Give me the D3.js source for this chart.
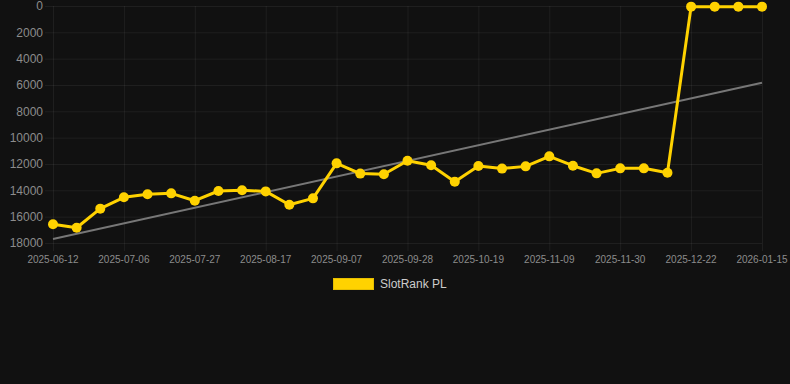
<!DOCTYPE html>
<html><head><meta charset="utf-8">
<script src="https://cdn.jsdelivr.net/npm/d3@7/dist/d3.min.js"></script>
<style>html,body{margin:0;padding:0;background:#111111;}svg{display:block;}</style>
</head><body>
<svg id="c" width="790" height="384"></svg>
<script>
const categories = ["2025-06-12","2025-06-20","2025-06-28","2025-07-06","2025-07-13","2025-07-20","2025-07-27","2025-08-03","2025-08-10","2025-08-17","2025-08-24","2025-08-31","2025-09-07","2025-09-14","2025-09-21","2025-09-28","2025-10-05","2025-10-12","2025-10-19","2025-10-26","2025-11-02","2025-11-09","2025-11-16","2025-11-23","2025-11-30","2025-12-07","2025-12-14","2025-12-22","2025-12-30","2026-01-07","2026-01-15"];
const rankValues = [16580,16840,15390,14530,14300,14230,14790,14050,14000,14080,15100,14610,11950,12730,12780,11750,12100,13340,12150,12350,12180,11420,12130,12710,12330,12330,12660,50,50,50,50];
const trendValues = [17700,5830];
const yTicks = [0,2000,4000,6000,8000,10000,12000,14000,16000,18000];
const seriesName = "SlotRank PL";

(function(){
const svg = d3.select("#c");
const pL = 53, pR = 762, pT = 6, pB = 243;
const x = d3.scalePoint().domain(categories).range([pL, pR]);
const y = d3.scaleLinear().domain([0,18000]).range([pT, pB]);
const font = "Liberation Sans, Arial, Helvetica, sans-serif";
const grid = "rgba(255,255,255,0.06)";

svg.append("g").selectAll("line").data(yTicks).join("line")
  .attr("x1", pL-8).attr("x2", pR).attr("y1", d=>y(d)+0.5).attr("y2", d=>y(d)+0.5)
  .attr("stroke", grid);
const shown = categories.filter((d,i)=>i%3===0);
svg.append("g").selectAll("line").data(shown).join("line")
  .attr("x1", d=>x(d)+0.5).attr("x2", d=>x(d)+0.5).attr("y1", pT).attr("y2", pB+8)
  .attr("stroke", grid);

svg.append("g").selectAll("text").data(yTicks).join("text")
  .attr("x", 43).attr("y", d=>y(d)).attr("dy","0.35em").attr("text-anchor","end")
  .attr("font-family", font).attr("font-size", 12).attr("fill", "#8c8c8c")
  .text(d=>d);
svg.append("g").selectAll("text").data(shown).join("text")
  .attr("x", d=>x(d)).attr("y", 263).attr("text-anchor","middle")
  .attr("font-family", font).attr("font-size", 10).attr("fill", "#8c8c8c")
  .text(d=>d);

svg.append("line")
  .attr("x1", x(categories[0])).attr("y1", y(trendValues[0]))
  .attr("x2", x(categories[categories.length-1])).attr("y2", y(trendValues[1]))
  .attr("stroke", "#777777").attr("stroke-width", 2);

const data = categories.map((c,i)=>({c, v: rankValues[i]}));
svg.append("path").datum(data)
  .attr("d", d3.line().x(d=>x(d.c)).y(d=>y(d.v)))
  .attr("fill","none").attr("stroke","#FFD200").attr("stroke-width",3).attr("stroke-linejoin","round");
svg.append("g").selectAll("circle").data(data).join("circle")
  .attr("cx", d=>x(d.c)).attr("cy", d=>y(d.v)).attr("r", 5)
  .attr("fill","#FFD200");

svg.append("rect").attr("x",333.5).attr("y",278.5).attr("width",40).attr("height",11)
  .attr("fill","#FFD200").attr("stroke","#E6BE00").attr("stroke-width",1);
svg.append("text").attr("x",380).attr("y",284).attr("dy","0.35em")
  .attr("font-family", font).attr("font-size", 12).attr("fill","#CCCCCC").text(seriesName);
})();
</script>
</body></html>
